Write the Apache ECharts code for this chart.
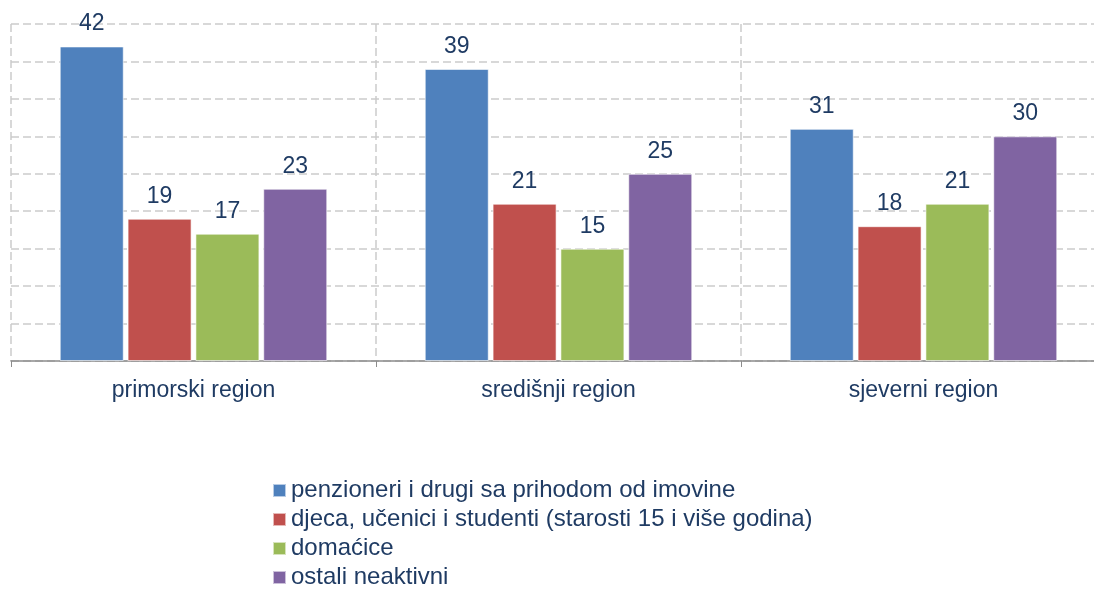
<html>
<head>
<meta charset="UTF-8">
</head>
<body style="margin:0;background:#fff;overflow:hidden">
<div id="container" style="width:1110px;height:620px"></div>
<script src="https://cdn.jsdelivr.net/npm/echarts@6/dist/echarts.min.js"></script>
<script>
var regions = ['primorski region', 'središnji region', 'sjeverni region'];
var seriesNames = [
    'penzioneri i drugi sa prihodom od imovine',
    'djeca, učenici i studenti (starosti 15 i više godina)',
    'domaćice',
    'ostali neaktivni'
];
var penzioneri = [42, 39, 31];
var djeca = [19, 21, 18];
var domacice = [17, 15, 21];
var ostali = [23, 25, 30];
var colors = ['#4F81BD', '#C0504D', '#9BBB59', '#8064A2'];

var textColor = '#1F3B63';
var font = 'Liberation Sans, Arial, sans-serif';

function makeSeries(i, data) {
    return {
        name: seriesNames[i],
        type: 'bar',
        data: data,
        barWidth: 64,
        barGap: '6%',
        itemStyle: {color: colors[i], borderColor: 'rgba(255,255,255,0.6)', borderWidth: 1},
        label: {
            show: true,
            position: 'top',
            distance: 11,
            color: textColor,
            fontSize: 23,
            fontFamily: font
        }
    };
}

// container is a bit bigger than the window so the plot runs off the right edge like the original
var myChart = echarts.init(document.getElementById('container'));
var option = {
    animation: false,
    grid: {left: 11, top: 24, right: 4, height: 337},
    legend: {
        orient: 'vertical',
        left: 267,
        top: 471,
        itemWidth: 13,
        itemHeight: 13,
        itemGap: 0,
        icon: 'rect',
        textStyle: {color: textColor, fontSize: 24, lineHeight: 29, fontFamily: font},
        data: seriesNames
    },
    xAxis: {
        type: 'category',
        data: regions,
        axisLine: {lineStyle: {color: '#8C8C8C', width: 1.5}},
        axisTick: {show: true, length: 6, lineStyle: {color: '#8C8C8C'}},
        axisLabel: {color: textColor, fontSize: 23, fontFamily: font, margin: 18},
        splitLine: {show: true, lineStyle: {color: '#CCCCCC', type: [8, 4], width: 1.5}}
    },
    yAxis: {
        type: 'value',
        min: 0,
        max: 45,
        interval: 5,
        axisLine: {show: false},
        axisTick: {show: false},
        axisLabel: {show: false},
        splitLine: {show: true, lineStyle: {color: '#CCCCCC', type: [8, 4], width: 1.5}}
    },
    series: [
        makeSeries(0, penzioneri),
        makeSeries(1, djeca),
        makeSeries(2, domacice),
        makeSeries(3, ostali)
    ]
};
myChart.setOption(option);
</script>
</body>
</html>
